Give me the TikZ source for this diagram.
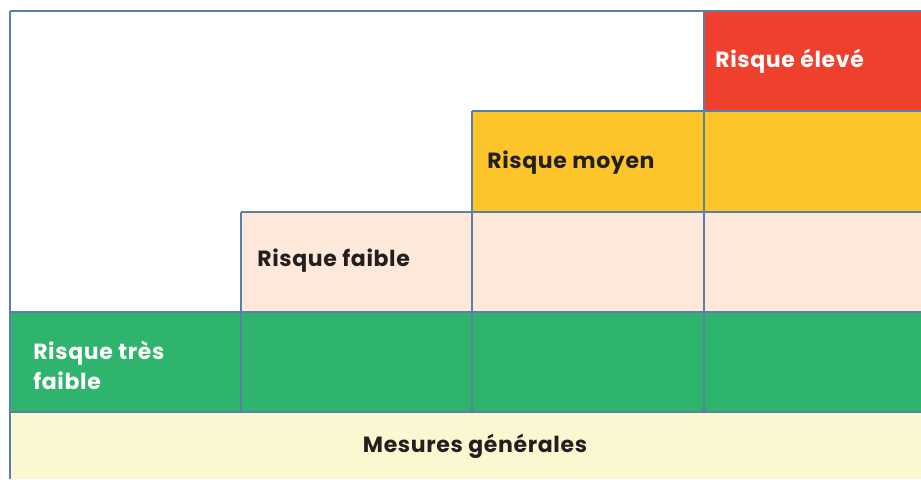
\documentclass[tikz,border=0pt]{standalone}
\usepackage{fontspec}
\setmainfont[LetterSpace=3]{Poppins}
\definecolor{gridblue}{HTML}{5B7FA6}
\definecolor{rred}{HTML}{EF402E}
\definecolor{ryellow}{HTML}{FDC52A}
\definecolor{rpeach}{HTML}{FDE8D9}
\definecolor{rgreen}{HTML}{2FB46E}
\definecolor{rcream}{HTML}{FBF7D0}
\definecolor{rtext}{HTML}{231F20}
\begin{document}
\begin{tikzpicture}[x=0.75pt,y=-0.75pt,
  gridline/.style={draw=gridblue,line width=1.5pt},
  lblfont/.style={font=\bfseries\fontsize{16.5}{22.5}\selectfont},
  lbl/.style={lblfont,anchor=west,inner sep=0pt,align=left}]
\useasboundingbox (0,0) rectangle (921,479);
\fill[white] (0,0) rectangle (921,479);
% fills
\fill[rred] (704,11) rectangle (921,111);
\fill[ryellow] (472,111) rectangle (921,212);
\fill[rpeach] (241,212) rectangle (921,312);
\fill[rgreen] (10,312) rectangle (921,412);
\fill[rcream] (10,412) rectangle (921,479);
% grid lines
\draw[gridline] (10,11) -- (921,11);
\draw[gridline] (10,11) -- (10,479);
\draw[gridline] (472,111) -- (921,111);
\draw[gridline] (241,212) -- (921,212);
\draw[gridline] (10,312) -- (921,312);
\draw[gridline] (10,412) -- (921,412);
\draw[gridline] (704,11) -- (704,412);
\draw[gridline] (472,111) -- (472,412);
\draw[gridline] (241,212) -- (241,412);
% labels
\node[lbl,text=white] (eleve) at (715,61) {Risque élevé};
\node[lbl,text=rtext] (moyen) at (487,163) {Risque moyen};
\node[lbl,text=rtext] (faible) at (257,261) {Risque faible};
\node[lbl,text=white] (tresfaible) at (33,365) {Risque très\\faible};
\node[lblfont,text=rtext,inner sep=0pt] (mesures) at (475,446) {Mesures générales};
\end{tikzpicture}
\end{document}
